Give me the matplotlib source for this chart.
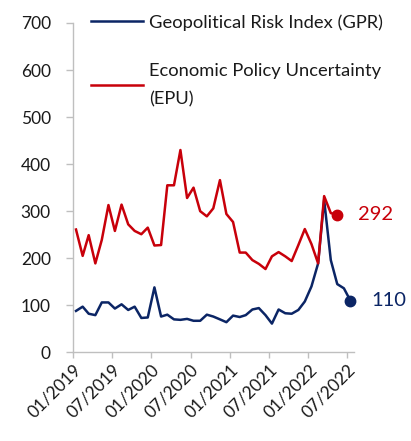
import numpy as np
import pandas as pd
import matplotlib
matplotlib.use("Agg")
import matplotlib.pyplot as plt
import matplotlib.dates as mdates

plt.rcParams['font.family'] = ['Lato', 'DejaVu Sans']

# monthly values (plotted mid-month)
gpr_dates = pd.date_range("2019-01-01", periods=43, freq="MS") + pd.Timedelta(days=14)
gpr = [88, 97, 82, 79, 106, 106, 93, 102, 90, 97, 73, 74, 138, 76, 80, 70, 69, 71, 67, 67,
       80, 76, 70, 64, 78, 75, 79, 91, 94, 79, 61, 91, 83, 82, 90, 108, 140, 189, 324, 196,
       145, 136, 110]

epu_dates = gpr_dates[:41]
epu = [261, 205, 249, 189, 239, 313, 258, 314, 272, 258, 251, 265, 227, 228, 355, 355, 430,
       328, 350, 300, 289, 306, 366, 294, 277, 212, 212, 196, 188, 177, 204, 213, 204, 194,
       228, 262, 230, 189, 332, 296, 292]

blue = '#0b2565'
red = '#c8000a'
grey = '#bfbfbf'
txt = '#1a1a1a'

fig = plt.figure(figsize=(4.11, 4.41), dpi=100)
ax = fig.add_axes([73 / 411, 88.7 / 441, 281 / 411, 329.3 / 441])

ax.plot(gpr_dates, gpr, color=blue, lw=1.8, label='Geopolitical Risk Index (GPR)')
ax.plot(epu_dates, epu, color=red, lw=1.8, label='Economic Policy Uncertainty\n(EPU)')

# end points and their labels
ax.plot(gpr_dates[-1], gpr[-1], 'o', color=blue, ms=7.5, clip_on=False)
ax.plot(epu_dates[-1], epu[-1], 'o', color=red, ms=7.5, clip_on=False)
ax.annotate(str(gpr[-1]), xy=(gpr_dates[-1], gpr[-1]), xytext=(15, 0),
            textcoords='offset points', va='center', color=blue, fontsize=14.5,
            annotation_clip=False)
ax.annotate(str(epu[-1]), xy=(epu_dates[-1], epu[-1]), xytext=(15, 0),
            textcoords='offset points', va='center', color=red, fontsize=14.5,
            annotation_clip=False)

ax.set_ylim(0, 700)
ax.set_yticks(np.arange(0, 701, 100))
ax.set_xlim(pd.Timestamp("2019-01-01"), pd.Timestamp("2022-08-01"))
ax.xaxis.set_major_locator(mdates.MonthLocator(bymonth=[1, 7]))
ax.xaxis.set_major_formatter(mdates.DateFormatter('%m/%Y'))

for s in ['top', 'right']:
    ax.spines[s].set_visible(False)
for s in ['left', 'bottom']:
    ax.spines[s].set_color(grey)
    ax.spines[s].set_linewidth(1.0)

ax.tick_params(axis='y', length=5, width=1, color=grey, pad=11, labelsize=12.5, labelcolor=txt)
ax.tick_params(axis='x', length=4.5, width=1, color=grey, pad=2, labelsize=12.5, labelcolor=txt)
for lab in ax.get_xticklabels():
    lab.set_rotation(45)
    lab.set_ha('right')
    lab.set_rotation_mode('anchor')

leg = ax.legend(loc='upper left', bbox_to_anchor=(0.221, 0.968), bbox_transform=fig.transFigure,
                frameon=False, fontsize=13.2, handlelength=2.85, handletextpad=0.33,
                borderpad=0, borderaxespad=0, labelspacing=1.75)
for t in leg.get_texts():
    t.set_color(txt)
leg.get_texts()[1].set_linespacing(1.95)

fig.savefig("out.png", dpi=100)
